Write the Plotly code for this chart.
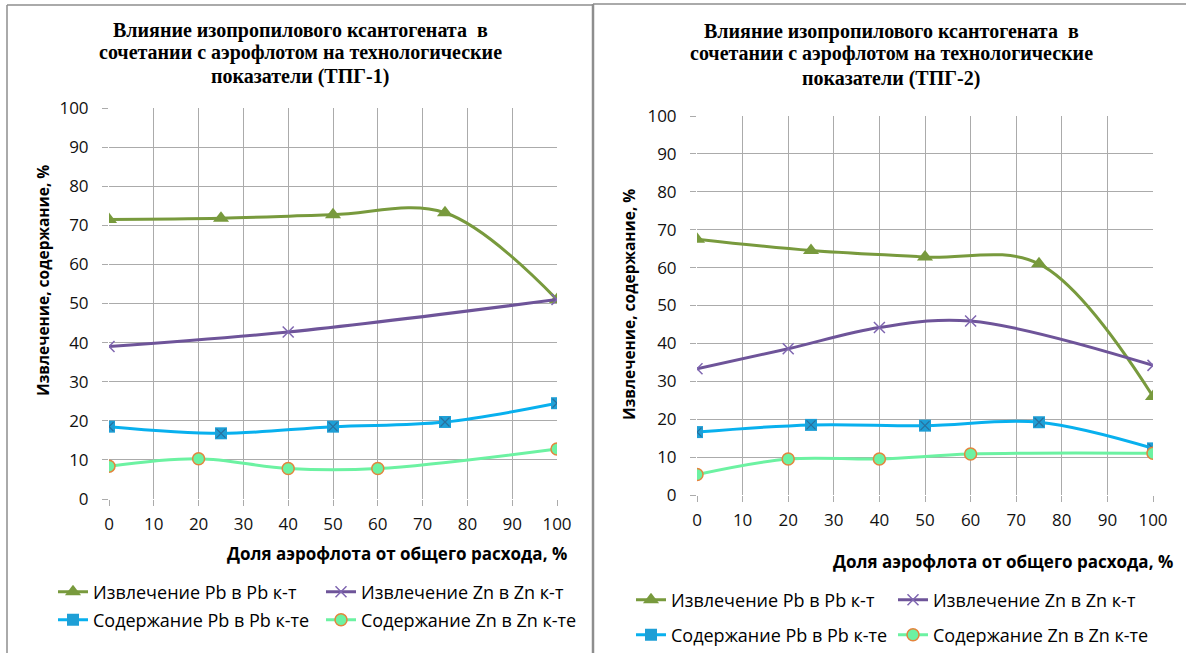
import plotly.graph_objects as go

W, H = 1186, 653

# ---------- data ----------
x_ticks = [0, 10, 20, 30, 40, 50, 60, 70, 80, 90, 100]
y_ticks = [0, 10, 20, 30, 40, 50, 60, 70, 80, 90, 100]

series_names = ["Извлечение Pb в Pb к-т", "Извлечение Zn в Zn к-т",
                "Содержание Pb в Pb к-те", "Содержание Zn в Zn к-те"]

# ТПГ-1
t1_pb_rec_x = [0, 25, 50, 75, 100]
t1_pb_rec_y = [71.5, 71.8, 72.7, 73.2, 51.0]
t1_zn_rec_x = [0, 40, 100]
t1_zn_rec_y = [39.0, 42.7, 51.0]
t1_pb_con_x = [0, 25, 50, 75, 100]
t1_pb_con_y = [18.5, 16.8, 18.5, 19.7, 24.5]
t1_zn_con_x = [0, 20, 40, 60, 100]
t1_zn_con_y = [8.4, 10.3, 7.8, 7.8, 12.8]

# ТПГ-2
t2_pb_rec_x = [0, 25, 50, 75, 100]
t2_pb_rec_y = [67.5, 64.5, 62.8, 61.0, 26.0]
t2_zn_rec_x = [0, 20, 40, 60, 100]
t2_zn_rec_y = [33.3, 38.6, 44.2, 45.9, 34.2]
t2_pb_con_x = [0, 25, 50, 75, 100]
t2_pb_con_y = [16.6, 18.5, 18.3, 19.2, 12.3]
t2_zn_con_x = [0, 20, 40, 60, 100]
t2_zn_con_y = [5.4, 9.5, 9.5, 10.8, 11.0]

title1_lines = ["Влияние изопропилового ксантогената  в",
                "сочетании с аэрофлотом на технологические",
                "показатели (ТПГ-1)"]
title2_lines = ["Влияние изопропилового ксантогената  в",
                "сочетании с аэрофлотом на технологические",
                "показатели (ТПГ-2)"]
y_title = "Извлечение, содержание, %"
x_title = "Доля аэрофлота от общего расхода, %"

# ---------- styles ----------
C_PBREC = "#789A3D"
C_ZNREC = "#6E5499"
C_PBCON = "#08B0EE"
C_ZNCON = "#6CF2A2"
SANS = "Open Sans"
SERIF = "Liberation Serif"
GRID = "#ABABAB"

def px(x):
    return x / W

def py(y):
    return 1 - y / H

fig = go.Figure()

panels = [
    dict(xa="x", ya="y", data=[(t1_pb_rec_x, t1_pb_rec_y), (t1_zn_rec_x, t1_zn_rec_y),
                               (t1_pb_con_x, t1_pb_con_y), (t1_zn_con_x, t1_zn_con_y)],
         legs=[(53, 592), (321, 592), (53, 620), (321, 620)], lid=1),
    dict(xa="x2", ya="y2", data=[(t2_pb_rec_x, t2_pb_rec_y), (t2_zn_rec_x, t2_zn_rec_y),
                                 (t2_pb_con_x, t2_pb_con_y), (t2_zn_con_x, t2_zn_con_y)],
         legs=[(631, 600), (893, 600), (631, 635), (893, 635)], lid=5),
]

styles = [
    dict(line=dict(color=C_PBREC, width=3, shape="spline"),
         marker=dict(symbol="triangle-up", size=14, color=C_PBREC, line=dict(width=0))),
    dict(line=dict(color=C_ZNREC, width=3, shape="spline"),
         marker=dict(symbol="x-thin", size=11, color="#8A70B8", line=dict(width=1.5, color="#7F66B0"))),
    dict(line=dict(color=C_PBCON, width=3, shape="spline"),
         marker=dict(symbol="square", size=12, color="#1E9FD6", line=dict(width=0))),
    dict(line=dict(color=C_ZNCON, width=3, shape="spline"),
         marker=dict(symbol="circle", size=12, color=C_ZNCON, line=dict(width=1.5, color="#E4843C"))),
]

legend_layouts = {}
for p in panels:
    for i, ((xs, ys), st) in enumerate(zip(p["data"], styles)):
        lname = "legend" if p["lid"] + i == 1 else f"legend{p['lid'] + i}"
        fig.add_trace(go.Scatter(x=xs, y=ys, mode="lines+markers", name=series_names[i],
                                 xaxis=p["xa"], yaxis=p["ya"], legend=lname,
                                 line=st["line"], marker=st["marker"]))
        lx, ly = p["legs"][i]
        legend_layouts[lname] = dict(x=px(lx), y=py(ly), xanchor="left", yanchor="middle",
                                     xref="paper", yref="paper", bgcolor="rgba(0,0,0,0)",
                                     font=dict(family=SANS, size=18, color="#000"),
                                     borderwidth=0, itemwidth=30)
        if i == 2:
            fig.add_trace(go.Scatter(x=xs, y=ys, mode="markers", showlegend=False,
                                     xaxis=p["xa"], yaxis=p["ya"], hoverinfo="skip",
                                     marker=dict(symbol="x-thin", size=9,
                                                 line=dict(width=1.2, color="#2A6F9C"))))

axis_common = dict(range=[0, 100], tickmode="array", showgrid=True, gridcolor=GRID,
                   gridwidth=1, griddash="solid", zeroline=False, showline=False,
                   ticks="outside", ticklen=6, tickwidth=1,
                   tickcolor=GRID, tickfont=dict(family=SANS, size=17, color="#111"),
                   fixedrange=True, layer="below traces")

fig.update_layout(
    width=W, height=H, margin=dict(l=0, r=0, t=0, b=0, autoexpand=False),
    paper_bgcolor="white", plot_bgcolor="white",
    showlegend=True,
    xaxis=dict(domain=[px(109), px(557)], anchor="y", tickvals=x_ticks,
               ticklabelstandoff=4, **axis_common),
    yaxis=dict(domain=[py(499), py(108)], anchor="x", tickvals=y_ticks,
               ticklabelstandoff=10, **axis_common),
    xaxis2=dict(domain=[px(697), px(1153)], anchor="y2", tickvals=x_ticks,
                ticklabelstandoff=4, **axis_common),
    yaxis2=dict(domain=[py(495), py(116)], anchor="x2", tickvals=y_ticks,
                ticklabelstandoff=10, **axis_common),
    **legend_layouts,
)

for lines, cx, ys in [(title1_lines, 300, [30, 53, 76]), (title2_lines, 891, [31, 54, 78])]:
    for t, yy in zip(lines, ys):
        fig.add_annotation(xref="paper", yref="paper", xanchor="center", yanchor="middle",
                           showarrow=False, font=dict(family=SERIF, size=20, color="#000"),
                           text="<b>" + t + "</b>", x=px(cx), y=py(yy))

for (x, y) in [(43, 281), (629, 305)]:
    fig.add_annotation(xref="paper", yref="paper", xanchor="center", yanchor="middle",
                       showarrow=False, textangle=-90,
                       font=dict(family=SANS, size=15.5, color="#000"),
                       text="<b>" + y_title + "</b>", x=px(x), y=py(y))
for (x, y) in [(397, 553), (1003, 561)]:
    fig.add_annotation(xref="paper", yref="paper", xanchor="center", yanchor="middle",
                       showarrow=False, font=dict(family=SANS, size=17, color="#000"),
                       text="<b>" + x_title + "</b>", x=px(x), y=py(y))

# panel borders
bc = "#8E8E8E"
for (x0, y0, x1, y1, w) in [(7, 5, 7, 653, 1.5), (7, 5, 593, 5, 1.5),
                             (593, 4, 593, 653, 2.5), (593, 4, 1186, 4, 1.5)]:
    fig.add_shape(type="line", xref="paper", yref="paper", x0=px(x0), y0=py(y0),
                  x1=px(x1), y1=py(y1), line=dict(color=bc, width=w))

fig.write_html("out.html", config={"displayModeBar": False},
               post_script="document.body.style.margin='0';")
